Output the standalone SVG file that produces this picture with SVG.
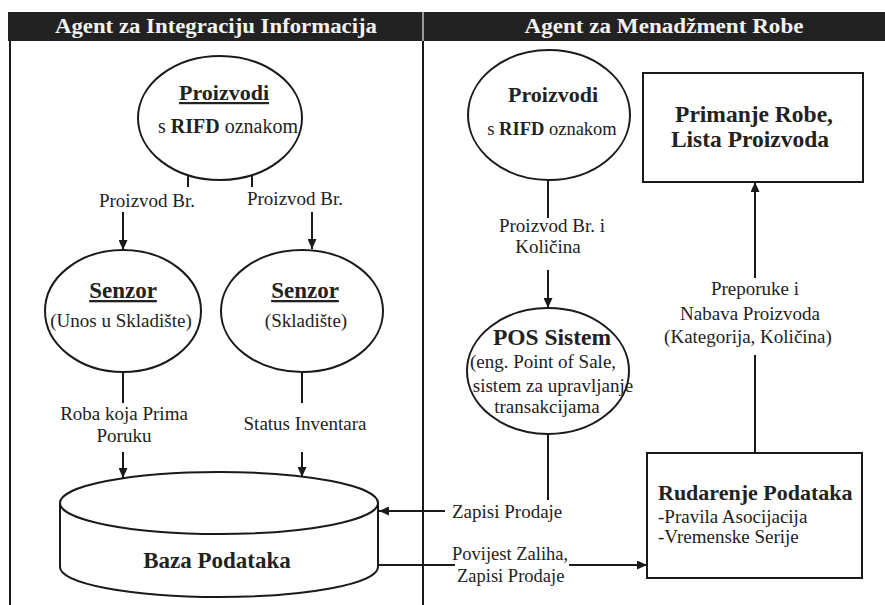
<svg xmlns="http://www.w3.org/2000/svg" width="885" height="605" viewBox="0 0 885 605">
<style>
.ln{stroke:#1a1a1a;stroke-width:2;fill:none}
.sh{stroke:#1a1a1a;stroke-width:2;fill:#fff}
.ar{marker-end:url(#ah)}
text{font-family:"Liberation Serif","Times New Roman",serif;fill:#222;text-anchor:middle}
.l{font-size:19px}
.b{font-weight:bold;font-size:22px}
.u{text-decoration:underline}
.hdr{font-weight:bold;font-size:20px;fill:#f2f2f2}
.st{text-anchor:start}
</style>
<defs>
<marker id="ah" markerWidth="10" markerHeight="9" refX="10" refY="4.5" orient="auto" markerUnits="userSpaceOnUse">
<path d="M0,0 L10,4.5 L0,9 z" fill="#1a1a1a"/>
</marker>
</defs>
<rect width="885" height="605" fill="#fff"/>

<g id="header">
<rect x="8" y="12" width="877" height="29" fill="#222"/>
<line x1="423" y1="12" x2="423" y2="41" stroke="#999" stroke-width="2"/>
<text class="hdr" x="216" y="33" textLength="322" lengthAdjust="spacingAndGlyphs">Agent za Integraciju Informacija</text>
<text class="hdr" x="664" y="33" textLength="279" lengthAdjust="spacingAndGlyphs">Agent za Menadžment Robe</text>
</g>

<g id="frame">
<line class="ln" x1="10" y1="41" x2="10" y2="605"/>
<line class="ln" x1="423" y1="41" x2="423" y2="605"/>
</g>

<g id="connectors">
<line class="ln" x1="188" y1="175" x2="188" y2="187"/>
<line class="ln" x1="252" y1="175" x2="252" y2="187"/>
<line class="ln ar" x1="123" y1="212" x2="123" y2="250"/>
<line class="ln ar" x1="312" y1="212" x2="312" y2="249"/>
<line class="ln" x1="123" y1="372" x2="123" y2="403"/>
<line class="ln" x1="302" y1="372" x2="302" y2="403"/>
<line class="ln ar" x1="123" y1="452" x2="123" y2="478"/>
<line class="ln ar" x1="302" y1="452" x2="302" y2="477"/>
<line class="ln" x1="548" y1="180" x2="548" y2="218"/>
<line class="ln ar" x1="548" y1="270" x2="548" y2="308"/>
<line class="ln" x1="548" y1="434" x2="548" y2="500"/>
<line class="ln ar" x1="445" y1="511" x2="379" y2="511"/>
<line class="ln" x1="378" y1="565" x2="455" y2="565"/>
<line class="ln ar" x1="569" y1="565" x2="647" y2="565"/>
<line class="ln" x1="755" y1="453" x2="755" y2="355"/>
<line class="ln ar" x1="755" y1="278" x2="755" y2="182"/>
</g>

<g id="labels">
<text class="l" x="147" y="207">Proizvod Br.</text>
<text class="l" x="295" y="205">Proizvod Br.</text>
<text class="l" x="124" y="420">Roba koja Prima</text>
<text class="l" x="124" y="442">Poruku</text>
<text class="l" x="305" y="430">Status Inventara</text>
<text class="l" x="552" y="232">Proizvod Br. i</text>
<text class="l" x="548" y="253">Količina</text>
<text class="l" x="755" y="295">Preporuke i</text>
<text class="l" x="750" y="320">Nabava Proizvoda</text>
<text class="l" x="748" y="343">(Kategorija, Količina)</text>
<text class="l st" x="452" y="518">Zapisi Prodaje</text>
<text class="l st" style="font-size:18.5px" x="452" y="560">Povijest Zaliha,</text>
<text class="l st" style="font-size:18.5px" x="457" y="582">Zapisi Prodaje</text>
</g>

<g id="proizvodi-left">
<ellipse class="sh" cx="220" cy="118" rx="82" ry="62"/>
<text class="b u" x="224" y="100">Proizvodi</text>
<text style="font-size:20px" x="228" y="133">s <tspan font-weight="bold">RIFD</tspan> oznakom</text>
</g>

<g id="senzor-unos">
<ellipse class="sh" cx="123" cy="311" rx="78" ry="61"/>
<text class="b u" style="font-size:23px" x="123" y="298">Senzor</text>
<text class="l" x="121" y="327">(Unos u Skladište)</text>
</g>

<g id="senzor-skladiste">
<ellipse class="sh" cx="302" cy="311" rx="81" ry="61"/>
<text class="b u" style="font-size:23px" x="305" y="298">Senzor</text>
<text class="l" x="306" y="327">(Skladište)</text>
</g>

<g id="baza-podataka">
<path class="sh" d="M60,503 L60,567 A159,30 0 0 0 378,567 L378,503"/>
<ellipse class="sh" cx="219" cy="503" rx="159" ry="31"/>
<text class="b" style="font-size:23px" x="217" y="568">Baza Podataka</text>
</g>

<g id="proizvodi-right">
<ellipse class="sh" cx="549" cy="115" rx="81" ry="65"/>
<text class="b" x="553" y="102">Proizvodi</text>
<text style="font-size:18.5px" x="552" y="135">s <tspan font-weight="bold">RIFD</tspan> oznakom</text>
</g>

<g id="pos-sistem">
<ellipse class="sh" cx="548" cy="371" rx="81" ry="63"/>
<text class="b" style="font-size:23.5px" x="552" y="345">POS Sistem</text>
<text class="l" x="543" y="368">(eng. Point of Sale,</text>
<text class="l" x="553" y="392">sistem za upravljanje</text>
<text class="l" x="547" y="413">transakcijama</text>
</g>

<g id="primanje-robe">
<rect class="sh" x="643" y="73" width="220" height="109"/>
<text class="b" style="font-size:23.5px" x="754" y="122">Primanje Robe,</text>
<text class="b" style="font-size:23.5px" x="750" y="147">Lista Proizvoda</text>
</g>

<g id="rudarenje-podataka">
<rect class="sh" x="647" y="453" width="215" height="125"/>
<text class="b st" x="658" y="500">Rudarenje Podataka</text>
<text class="l st" x="658" y="523">-Pravila Asocijacija</text>
<text class="l st" x="658" y="543">-Vremenske Serije</text>
</g>
</svg>
